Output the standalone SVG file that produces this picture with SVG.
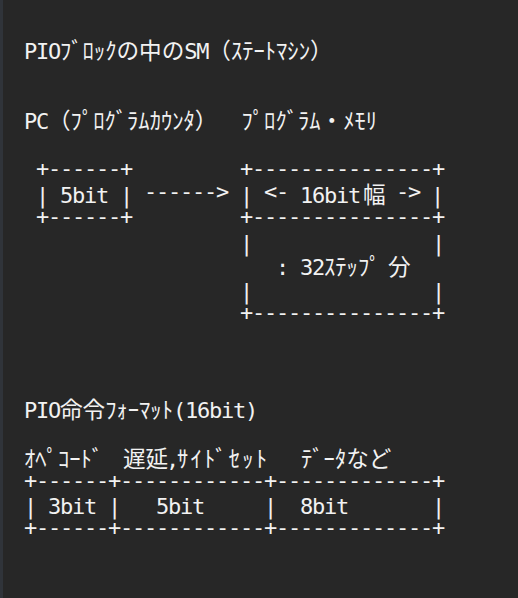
<svg xmlns="http://www.w3.org/2000/svg" width="518" height="598" viewBox="0 0 518 598">
<style>
.m{font-family:"DejaVu Sans Mono","Liberation Mono",monospace;font-size:22px;letter-spacing:-1.245px;fill:#f2f2f2}
.j{font-family:"Noto Sans CJK JP","Noto Sans CJK SC",sans-serif;font-size:22.6px;fill:#f2f2f2}
</style>
<rect width="518" height="598" fill="#272727"/>
<rect width="3" height="598" fill="#30343a"/>
<g id="title">
<text class="m" x="24" y="59">PIO</text>
<text class="j" x="60" y="59">ﾌﾞﾛｯｸの中の</text>
<text class="m" x="184.3" y="59">SM</text>
<text class="j" x="208.3" y="59">（ｽﾃｰﾄﾏｼﾝ）</text>
</g>
<g id="pc">
<text class="m" x="24" y="129">PC</text>
<text class="j" x="48" y="129">（ﾌﾟﾛｸﾞﾗﾑｶｳﾝﾀ）</text>
<text class="m" x="36" y="175.5">+------+</text>
<text class="m" x="36" y="203">|</text>
<text class="m" x="60" y="203">5bit</text>
<text class="m" x="120" y="203">|</text>
<text class="m" x="36" y="223.5">+------+</text>
</g>
<g id="memory">
<text class="j" x="241.5" y="129">ﾌﾟﾛｸﾞﾗﾑ・ﾒﾓﾘ</text>
<text class="m" x="240" y="175.5">+---------------+</text>
<text class="m" x="240" y="203">|</text>
<text class="m" x="264" y="198.5">&lt;-</text>
<text class="m" x="300" y="203">16bit</text>
<text class="j" x="363" y="203">幅</text>
<text class="m" x="396" y="198.5">-&gt;</text>
<text class="m" x="431" y="203">|</text>
<text class="m" x="240" y="223.5">+---------------+</text>
<text class="m" x="240" y="251">|</text>
<text class="m" x="432" y="251">|</text>
<text class="m" x="276" y="275">:</text>
<text class="m" x="300" y="275">32</text>
<text class="j" x="324" y="275">ｽﾃｯﾌﾟ</text>
<text class="j" x="388" y="275">分</text>
<text class="m" x="240" y="299">|</text>
<text class="m" x="432" y="299">|</text>
<text class="m" x="240" y="319.5">+---------------+</text>
</g>
<g id="connectors">
<text class="m" x="144" y="198.5">------&gt;</text>
</g>
<g id="format">
<text class="m" x="24" y="418">PIO</text>
<text class="j" x="60" y="418">命令ﾌｫｰﾏｯﾄ</text>
<text class="m" x="173" y="418">(16bit)</text>
<text class="j" x="24" y="467">ｵﾍﾟｺｰﾄﾞ</text>
<text class="j" x="123" y="467">遅延</text>
<text class="m" x="166" y="467">,</text>
<text class="j" x="177" y="467" textLength="90" lengthAdjust="spacing">ｻｲﾄﾞｾｯﾄ</text>
<text class="j" x="301" y="467">ﾃﾞｰﾀなど</text>
<text class="m" x="24" y="487.5">+------+------------+-------------+</text>
<text class="m" x="24" y="514">|</text>
<text class="m" x="48" y="514">3bit</text>
<text class="m" x="108" y="514">|</text>
<text class="m" x="156" y="514">5bit</text>
<text class="m" x="264" y="514">|</text>
<text class="m" x="300" y="514">8bit</text>
<text class="m" x="432" y="514">|</text>
<text class="m" x="24" y="534.5">+------+------------+-------------+</text>
</g>
</svg>
